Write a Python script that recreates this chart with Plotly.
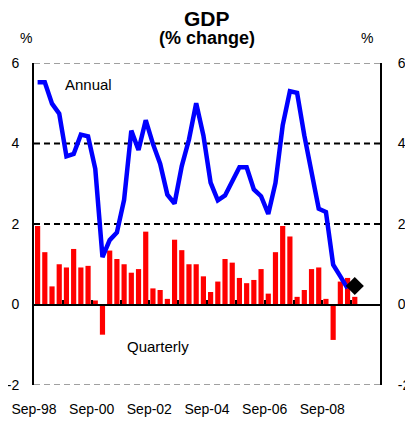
import plotly.graph_objects as go

# Quarterly GDP growth (%), Sep-98 quarter onwards
quarterly = [
    1.95, 1.30, 0.45, 1.00, 0.92, 1.38, 0.92, 0.96, 0.10, -0.75,
    1.34, 1.13, 1.00, 0.79, 0.88, 1.81, 0.40, 0.36, 0.14, 1.61,
    1.35, 1.00, 1.00, 0.70, 0.31, 0.57, 1.13, 1.04, 0.66, 0.53,
    0.61, 0.88, 0.27, 1.30, 1.95, 1.69, 0.19, 0.36, 0.88, 0.92,
    0.14, -0.88, 0.57, 0.66, 0.19,
]

# Annual (year-ended) GDP growth (%)
annual = [
    5.52, 5.52, 4.99, 4.74, 3.68, 3.74, 4.22, 4.18, 3.37, 1.18,
    1.60, 1.79, 2.60, 4.32, 3.84, 4.58, 3.99, 3.50, 2.73, 2.51,
    3.44, 4.10, 5.00, 4.20, 3.03, 2.59, 2.71, 3.06, 3.41, 3.41,
    2.86, 2.69, 2.25, 3.02, 4.45, 5.30, 5.26, 4.20, 3.22, 2.38,
    2.30, 0.99, 0.70, 0.40,
]

# latest annual estimate (diamond)
latest_annual = 0.46

tick_labels = ["Sep-98", "Sep-00", "Sep-02", "Sep-04", "Sep-06", "Sep-08"]
y_ticks = [-2, 0, 2, 4, 6]
y_tick_text = ["-2", "0", "2", "4", "6"]
n_slots = 48  # category slots on the axis

q_x = list(range(len(quarterly)))
a_x = list(range(len(annual)))
latest_x = len(quarterly) - 1

fig = go.Figure()

fig.add_trace(go.Bar(
    x=q_x, y=quarterly,
    marker=dict(color="#ff0000", line=dict(width=0)),
    showlegend=False,
))

fig.add_trace(go.Scatter(
    x=a_x, y=annual,
    mode="lines",
    line=dict(color="#0000ff", width=4.5),
    showlegend=False,
))

fig.add_trace(go.Scatter(
    x=[latest_x], y=[latest_annual],
    mode="markers",
    marker=dict(symbol="diamond", color="black", size=14),
    showlegend=False,
))

# gridlines: dashed black inside, grey dashed at the frame top/bottom
shapes = []
for v, col in [(2, "black"), (4, "black"), (6, "#a0a0a0"), (-2, "#a0a0a0")]:
    shapes.append(dict(
        type="line", xref="paper", x0=0, x1=1, yref="y", y0=v, y1=v,
        line=dict(color=col, width=2, dash="6px,4px"), layer="below",
    ))

font = "Liberation Sans, Arial, sans-serif"
clear = "rgba(0,0,0,0)"

# the page body is offset by 8px, margins are set to compensate
fig.update_layout(
    width=413, height=422,
    margin=dict(l=26, r=41, t=55, b=45, autoexpand=False),
    paper_bgcolor="white", plot_bgcolor="white",
    bargap=0.28,
    font=dict(family=font, size=14, color="black"),
    shapes=shapes,
    xaxis=dict(
        range=[-0.5, n_slots - 0.5],
        tickvals=[-0.5 + 8 * i for i in range(len(tick_labels))],
        ticktext=tick_labels,
        ticks="outside", ticklen=11, tickcolor=clear,
        showline=False, showgrid=False, zeroline=False,
        automargin=False,
        tickfont=dict(size=14),
    ),
    xaxis2=dict(
        overlaying="x", anchor="free", position=0.25,
        range=[-0.5, n_slots - 0.5],
        tickvals=[3.5 + 4 * i for i in range(11)],
        ticks="inside", ticklen=4, tickwidth=2, tickcolor="black",
        showticklabels=False, showgrid=False, zeroline=False,
        showline=True, linecolor="black", linewidth=2, automargin=False,
    ),
    yaxis=dict(
        range=[-2, 6], tickvals=y_ticks, ticktext=y_tick_text,
        showgrid=False, zeroline=False,
        showline=True, linecolor="black", linewidth=2,
        ticks="outside", ticklen=10, tickcolor=clear, automargin=False,
        tickfont=dict(size=14),
    ),
    yaxis2=dict(
        overlaying="y", side="right", anchor="x",
        range=[-2, 6], tickvals=y_ticks, ticktext=y_tick_text,
        showgrid=False, zeroline=False,
        showline=True, linecolor="black", linewidth=2,
        ticks="outside", ticklen=13, tickcolor=clear, automargin=False,
        tickfont=dict(size=14),
    ),
    annotations=[
        dict(text="<b>GDP</b>", xref="paper", yref="paper", x=0.5, y=1.137,
             showarrow=False, font=dict(size=21), xanchor="center", yanchor="middle"),
        dict(text="<b>(% change)</b>", xref="paper", yref="paper", x=0.5, y=1.078,
             showarrow=False, font=dict(size=18), xanchor="center", yanchor="middle"),
        dict(text="%", xref="paper", yref="paper", x=-0.023, y=1.078,
             showarrow=False, font=dict(size=14), xanchor="center", yanchor="middle"),
        dict(text="%", xref="paper", yref="paper", x=0.962, y=1.078,
             showarrow=False, font=dict(size=14), xanchor="center", yanchor="middle"),
        dict(text="Annual", x=3.5, y=5.47, xanchor="left", yanchor="middle",
             showarrow=False, font=dict(size=15)),
        dict(text="Quarterly", x=12.1, y=-1.04, xanchor="left", yanchor="middle",
             showarrow=False, font=dict(size=15)),
    ],
)

# invisible trace so the overlaid zero-line axis is drawn
fig.add_trace(go.Scatter(x=[0], y=[0], xaxis="x2", mode="markers",
                         marker=dict(opacity=0), showlegend=False, hoverinfo="skip"))
# anchor the right-hand axis with an invisible trace too
fig.add_trace(go.Scatter(x=[0], y=[0], yaxis="y2", mode="markers",
                         marker=dict(opacity=0), showlegend=False, hoverinfo="skip"))

fig.write_html("out.html")
